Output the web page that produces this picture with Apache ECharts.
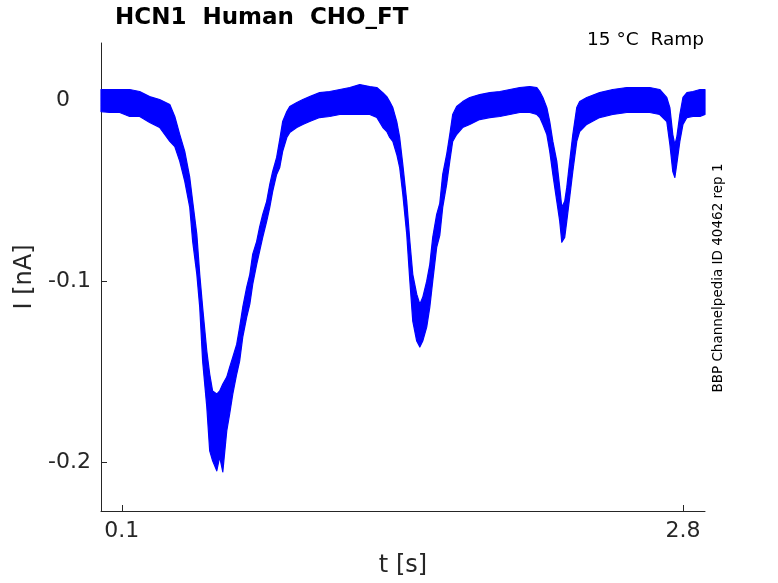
<!DOCTYPE html>
<html>
<head>
<meta charset="utf-8">
<script src="https://cdn.jsdelivr.net/npm/echarts@6/dist/echarts.min.js"></script>
<style>
html,body{margin:0;padding:0;background:#fff;}
#chart{width:778px;height:583px;}
</style>
</head>
<body>
<div id="chart"></div>
<script>
// time samples [s]
var timeS = [0.000,0.042,0.090,0.138,0.186,0.234,0.282,0.331,0.355,0.379,0.403,0.427,0.441,0.461,0.475,0.489,0.509,0.523,0.537,0.557,0.571,0.586,0.605,0.619,0.634,0.653,0.667,0.682,0.701,0.716,0.730,0.749,0.763,0.778,0.797,0.812,0.826,0.845,0.860,0.874,0.894,0.908,0.942,0.971,1.004,1.052,1.100,1.149,1.197,1.245,1.293,1.327,1.356,1.375,1.389,1.404,1.423,1.437,1.452,1.471,1.486,1.500,1.519,1.534,1.548,1.567,1.582,1.596,1.615,1.630,1.644,1.663,1.678,1.692,1.711,1.740,1.774,1.822,1.871,1.919,1.967,2.015,2.063,2.097,2.111,2.126,2.145,2.159,2.174,2.193,2.207,2.217,2.231,2.241,2.255,2.270,2.289,2.303,2.337,2.399,2.462,2.530,2.592,2.640,2.688,2.722,2.737,2.751,2.761,2.770,2.785,2.800,2.819,2.848,2.882,2.906];
// upper envelope of the recorded sweeps [nA]
var upperNA = [0.0061,0.0061,0.0061,0.0061,0.0050,0.0022,0.0006,-0.0022,-0.0088,-0.0188,-0.0281,-0.0425,-0.0557,-0.0739,-0.0960,-0.1142,-0.1384,-0.1511,-0.1605,-0.1622,-0.1605,-0.1566,-0.1528,-0.1473,-0.1418,-0.1346,-0.1252,-0.1142,-0.1031,-0.0960,-0.0849,-0.0778,-0.0700,-0.0629,-0.0557,-0.0463,-0.0392,-0.0314,-0.0215,-0.0116,-0.0061,-0.0033,-0.0011,0.0006,0.0022,0.0044,0.0050,0.0061,0.0072,0.0088,0.0077,0.0072,0.0044,0.0022,-0.0006,-0.0039,-0.0116,-0.0204,-0.0353,-0.0557,-0.0778,-0.0960,-0.1070,-0.1125,-0.1087,-0.0998,-0.0905,-0.0756,-0.0629,-0.0568,-0.0408,-0.0298,-0.0188,-0.0077,-0.0033,-0.0006,0.0017,0.0033,0.0044,0.0050,0.0061,0.0072,0.0077,0.0072,0.0050,0.0017,-0.0039,-0.0116,-0.0226,-0.0336,-0.0480,-0.0590,-0.0557,-0.0480,-0.0336,-0.0188,-0.0039,-0.0006,0.0017,0.0044,0.0061,0.0072,0.0072,0.0072,0.0061,0.0017,-0.0039,-0.0188,-0.0243,-0.0204,-0.0077,0.0017,0.0044,0.0050,0.0061,0.0061];
// lower envelope of the recorded sweeps [nA]
var lowerNA = [-0.0061,-0.0066,-0.0066,-0.0088,-0.0088,-0.0121,-0.0149,-0.0226,-0.0254,-0.0336,-0.0447,-0.0590,-0.0778,-0.0960,-0.1142,-0.1440,-0.1693,-0.1936,-0.1991,-0.2046,-0.1969,-0.2052,-0.1826,-0.1732,-0.1622,-0.1511,-0.1440,-0.1307,-0.1197,-0.1125,-0.1015,-0.0905,-0.0833,-0.0756,-0.0667,-0.0590,-0.0502,-0.0408,-0.0370,-0.0281,-0.0204,-0.0177,-0.0149,-0.0132,-0.0116,-0.0094,-0.0088,-0.0077,-0.0077,-0.0077,-0.0077,-0.0094,-0.0149,-0.0171,-0.0204,-0.0226,-0.0298,-0.0370,-0.0518,-0.0739,-0.0998,-0.1219,-0.1329,-0.1362,-0.1329,-0.1252,-0.1142,-0.0998,-0.0811,-0.0745,-0.0590,-0.0463,-0.0336,-0.0226,-0.0188,-0.0149,-0.0132,-0.0105,-0.0094,-0.0088,-0.0077,-0.0066,-0.0066,-0.0077,-0.0094,-0.0132,-0.0188,-0.0281,-0.0408,-0.0557,-0.0667,-0.0783,-0.0756,-0.0667,-0.0535,-0.0392,-0.0226,-0.0171,-0.0132,-0.0094,-0.0077,-0.0066,-0.0066,-0.0066,-0.0077,-0.0116,-0.0243,-0.0392,-0.0425,-0.0353,-0.0226,-0.0132,-0.0094,-0.0088,-0.0088,-0.0077];
var xTicks = [0.1, 2.8];
var yTicks = [-0.2, -0.1, 0];
var titleText = 'HCN1  Human  CHO_FT';
var condText = '15 °C  Ramp';
var sideText = 'BBP Channelpedia ID 40462 rep 1';

var bandData = timeS.map(function (t, i) { return [t, upperNA[i], lowerNA[i]]; });
var FONT = '"DejaVu Sans", sans-serif';
var AX = '#262626';

var chart = echarts.init(document.getElementById('chart'));
chart.setOption({
  animation: false,
  backgroundColor: '#fff',
  grid: { left: 101, right: 73, top: 43, bottom: 71, containLabel: false },
  xAxis: {
    type: 'value', min: 0, max: 2.906,
    axisLine: { show: true, onZero: false, lineStyle: { color: AX, width: 1 } },
    axisTick: { show: true, inside: true, length: 6, customValues: xTicks, lineStyle: { color: AX } },
    axisLabel: { customValues: xTicks, fontSize: 22, fontFamily: FONT, color: AX, margin: 9,
      formatter: function (v) { return v.toFixed(1); } },
    splitLine: { show: false },
    name: 't [s]', nameLocation: 'middle', nameGap: 43,
    nameTextStyle: { fontSize: 24, fontFamily: FONT, color: AX }
  },
  yAxis: {
    type: 'value', min: -0.2268, max: 0.0318,
    axisLine: { show: true, onZero: false, lineStyle: { color: AX, width: 1 } },
    axisTick: { show: true, inside: true, length: 6, customValues: yTicks, lineStyle: { color: AX } },
    axisLabel: { customValues: yTicks, fontSize: 22, fontFamily: FONT, color: AX, margin: 10,
      formatter: function (v) { return v === 0 ? '{z|0}' : v.toFixed(1); },
      rich: { z: { fontSize: 22, fontFamily: FONT, color: AX, padding: [0, 21, 0, 0] } } },
    splitLine: { show: false },
    name: 'I [nA]', nameLocation: 'middle', nameGap: 58,
    nameTextStyle: { fontSize: 24, fontFamily: FONT, color: AX }
  },
  series: [{
    type: 'custom',
    data: bandData,
    encode: { x: 0, y: [1, 2] },
    renderItem: function (params, api) {
      if (params.dataIndex !== 0) return null;
      var pts = [];
      for (var i = 0; i < timeS.length; i++) pts.push(api.coord([timeS[i], upperNA[i]]));
      for (var j = timeS.length - 1; j >= 0; j--) pts.push(api.coord([timeS[j], lowerNA[j]]));
      return { type: 'polygon', shape: { points: pts },
        style: { fill: '#0000ff', stroke: '#0000ff', lineWidth: 1.2, lineJoin: 'round' } };
    }
  }],
  graphic: [
    { type: 'text', x: 115, y: 18, style: { text: titleText, font: 'bold 23px ' + FONT, fill: '#000', align: 'left', verticalAlign: 'middle' } },
    { type: 'text', x: 704, y: 40, style: { text: condText, font: '18.5px ' + FONT, fill: '#000', align: 'right', verticalAlign: 'middle' } },
    { type: 'text', x: 718, y: 278, rotation: Math.PI / 2, style: { text: sideText, font: '13.5px ' + FONT, fill: '#000', align: 'center', verticalAlign: 'middle' } }
  ]
});
</script>
</body>
</html>
